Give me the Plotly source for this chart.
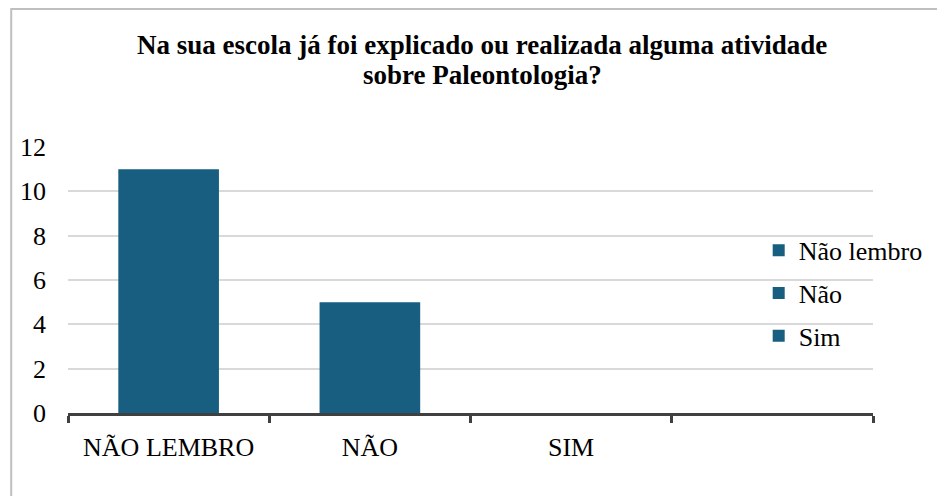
import plotly.graph_objects as go

categories = ["NÃO LEMBRO", "NÃO", "SIM"]
series_names = ["Não lembro", "Não", "Sim"]
values = [11, 5, 0]
y_ticks = [0, 2, 4, 6, 8, 10, 12]
title_lines = ["Na sua escola já foi explicado ou realizada alguma atividade",
               "sobre Paleontologia?"]

BAR_COLOR = "#175E80"
FONT = "Times New Roman"

# plot area in figure pixels (page has an 8px body margin)
L, R, T, B = 57, 865, 139, 405
W, H = R - L, B - T

fig = go.Figure()
for i, (name, v) in enumerate(zip(series_names, values)):
    fig.add_trace(go.Bar(
        x=[i], y=[v], name=name, width=0.5,
        marker=dict(color=BAR_COLOR, line=dict(width=0)),
        legendgroup=name, hoverinfo="skip",
    ))

fig.update_layout(
    width=945, height=496,
    paper_bgcolor="white", plot_bgcolor="white",
    margin=dict(l=L, r=945 - R, t=T, b=496 - B),
    barmode="overlay",
    font=dict(family=FONT, size=26, color="black"),
    legend=dict(
        x=0.858, y=0.70, xanchor="left", yanchor="top",
        font=dict(family=FONT, size=26, color="black"),
        tracegroupgap=6, bgcolor="rgba(0,0,0,0)",
    ),
    showlegend=True,
)

# two-line bold title
for line, ypix in zip(title_lines, [37, 67]):
    fig.add_annotation(
        text="<b>" + line + "</b>", showarrow=False,
        xref="paper", yref="paper",
        x=(473 - L) / W, y=(B - ypix) / H,
        xanchor="center", yanchor="middle",
        font=dict(family=FONT, size=27, color="black"),
    )

fig.update_xaxes(
    range=[-0.5, 3.5],
    tickvals=list(range(len(categories))), ticktext=categories,
    ticks="", showgrid=False, zeroline=False,
    showline=True, linecolor="#404040", linewidth=3,
    ticklabelstandoff=9,
    tickfont=dict(family=FONT, size=26, color="black"),
    minor=dict(tickvals=[-0.5, 0.5, 1.5, 2.5, 3.5], ticks="outside",
               ticklen=7, tickwidth=3, tickcolor="#404040", showgrid=False),
)
fig.update_yaxes(
    range=[0, 12], tickvals=y_ticks,
    showgrid=True, gridcolor="#D9D9D9", gridwidth=1.5,
    zeroline=False, showline=False, ticks="",
    ticklabelstandoff=21,
    tickfont=dict(family=FONT, size=26, color="black"),
)

# chart border (outer frame)
fig.add_shape(type="rect", xref="paper", yref="paper",
              x0=(0 - L) / W, x1=(950 - L) / W,
              y0=(B - 510) / H, y1=(B - 1) / H,
              line=dict(color="#BFBFBF", width=2), fillcolor="rgba(0,0,0,0)",
              layer="below")

fig.write_html("out.html")
